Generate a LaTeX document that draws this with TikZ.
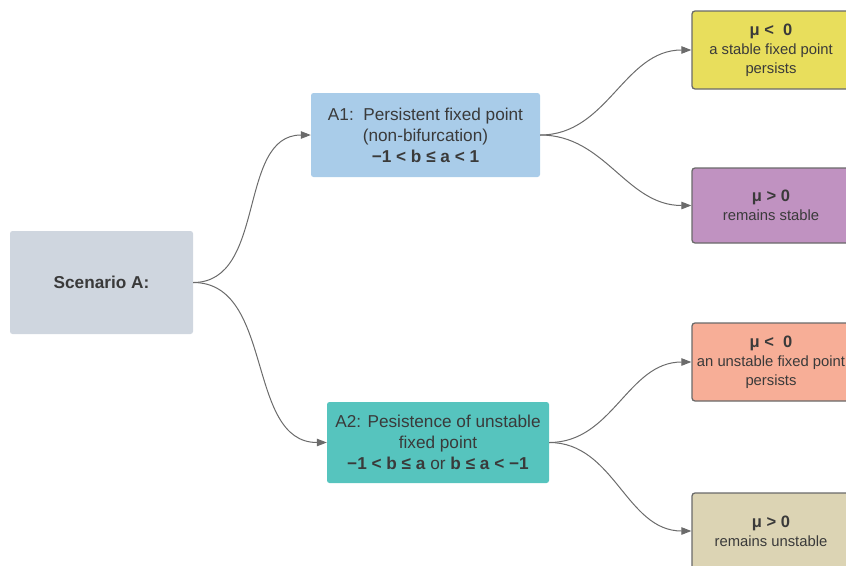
\documentclass[tikz,border=0pt]{standalone}
\usepackage{fontspec}
\setmainfont{Liberation Sans}
\usetikzlibrary{arrows.meta}

\definecolor{txt}{HTML}{3A3A3A}
\definecolor{edge}{HTML}{6B6B6B}
\definecolor{scenfill}{HTML}{CFD6DF}
\definecolor{aonefill}{HTML}{A9CCE9}
\definecolor{atwofill}{HTML}{56C4BE}
\definecolor{yelfill}{HTML}{E8DE5C}
\definecolor{purfill}{HTML}{C092C1}
\definecolor{salfill}{HTML}{F7AE97}
\definecolor{tanfill}{HTML}{DCD4B4}
\definecolor{leafline}{HTML}{6A6A6A}

\tikzset{
  mainbox/.style={rounded corners=2.5pt, inner sep=0pt, align=center,
    text=txt, font=\fontsize{17.2}{21}\selectfont},
  leafbox/.style={draw=leafline, line width=1.3pt, rounded corners=3pt,
    minimum width=158pt, inner sep=0pt, align=center, text=txt,
    font=\fontsize{14.8}{19}\selectfont},
  leafhead/.style={font=\fontsize{16.5}{19}\selectfont\bfseries},
  link/.style={draw=edge, line width=1pt,
    -{Triangle[length=10pt,width=7.5pt]}, out=0, in=180},
}

\begin{document}
\begin{tikzpicture}[x=1pt, y=-1pt]
  \useasboundingbox (0,0) rectangle (846,565);
  \clip (0,0) rectangle (846,565);

  % root and the two scenario branches
  \node[mainbox, fill=scenfill, minimum width=183pt, minimum height=103pt]
    (scen) at (101.5,282.5) {\textbf{Scenario A:}};
  \node[mainbox, fill=aonefill, minimum width=229pt, minimum height=84pt]
    (aone) at (425.5,135) {A1:\ \ Persistent fixed point\\(non-bifurcation)\\
    \textbf{−1 < b ≤ a < 1}};
  \node[mainbox, fill=atwofill, minimum width=222pt, minimum height=81pt]
    (atwo) at (438,442.5) {A2: Pesistence of unstable\\fixed point\\
    \textbf{−1 < b ≤ a} or \textbf{b ≤ a < −1}};

  % outcome boxes
  \node[leafbox, fill=yelfill, minimum height=78pt] (yel) at (771,50)
    {{\fontsize{16.5}{19}\selectfont\textbf{μ <\ \ 0}}\\a stable fixed point\\persists};
  \node[leafbox, fill=purfill, minimum height=75pt] (pur) at (771,205.5)
    {{\fontsize{16.5}{19}\selectfont\textbf{μ > 0}}\\remains stable};
  \node[leafbox, fill=salfill, minimum height=78pt] (sal) at (771,362)
    {{\fontsize{16.5}{19}\selectfont\textbf{μ <\ \ 0}}\\an unstable fixed point\\persists};
  \node[leafbox, fill=tanfill, minimum height=76pt] (tan) at (771,531)
    {{\fontsize{16.5}{19}\selectfont\textbf{μ > 0}}\\remains unstable};

  % connectors
  \draw[link] (scen.east) to (aone.west);
  \draw[link] (scen.east) to (atwo.west);
  \draw[link] (aone.east) to (yel.west);
  \draw[link] (aone.east) to (pur.west);
  \draw[link] (atwo.east) to (sal.west);
  \draw[link] (atwo.east) to (tan.west);
\end{tikzpicture}
\end{document}
